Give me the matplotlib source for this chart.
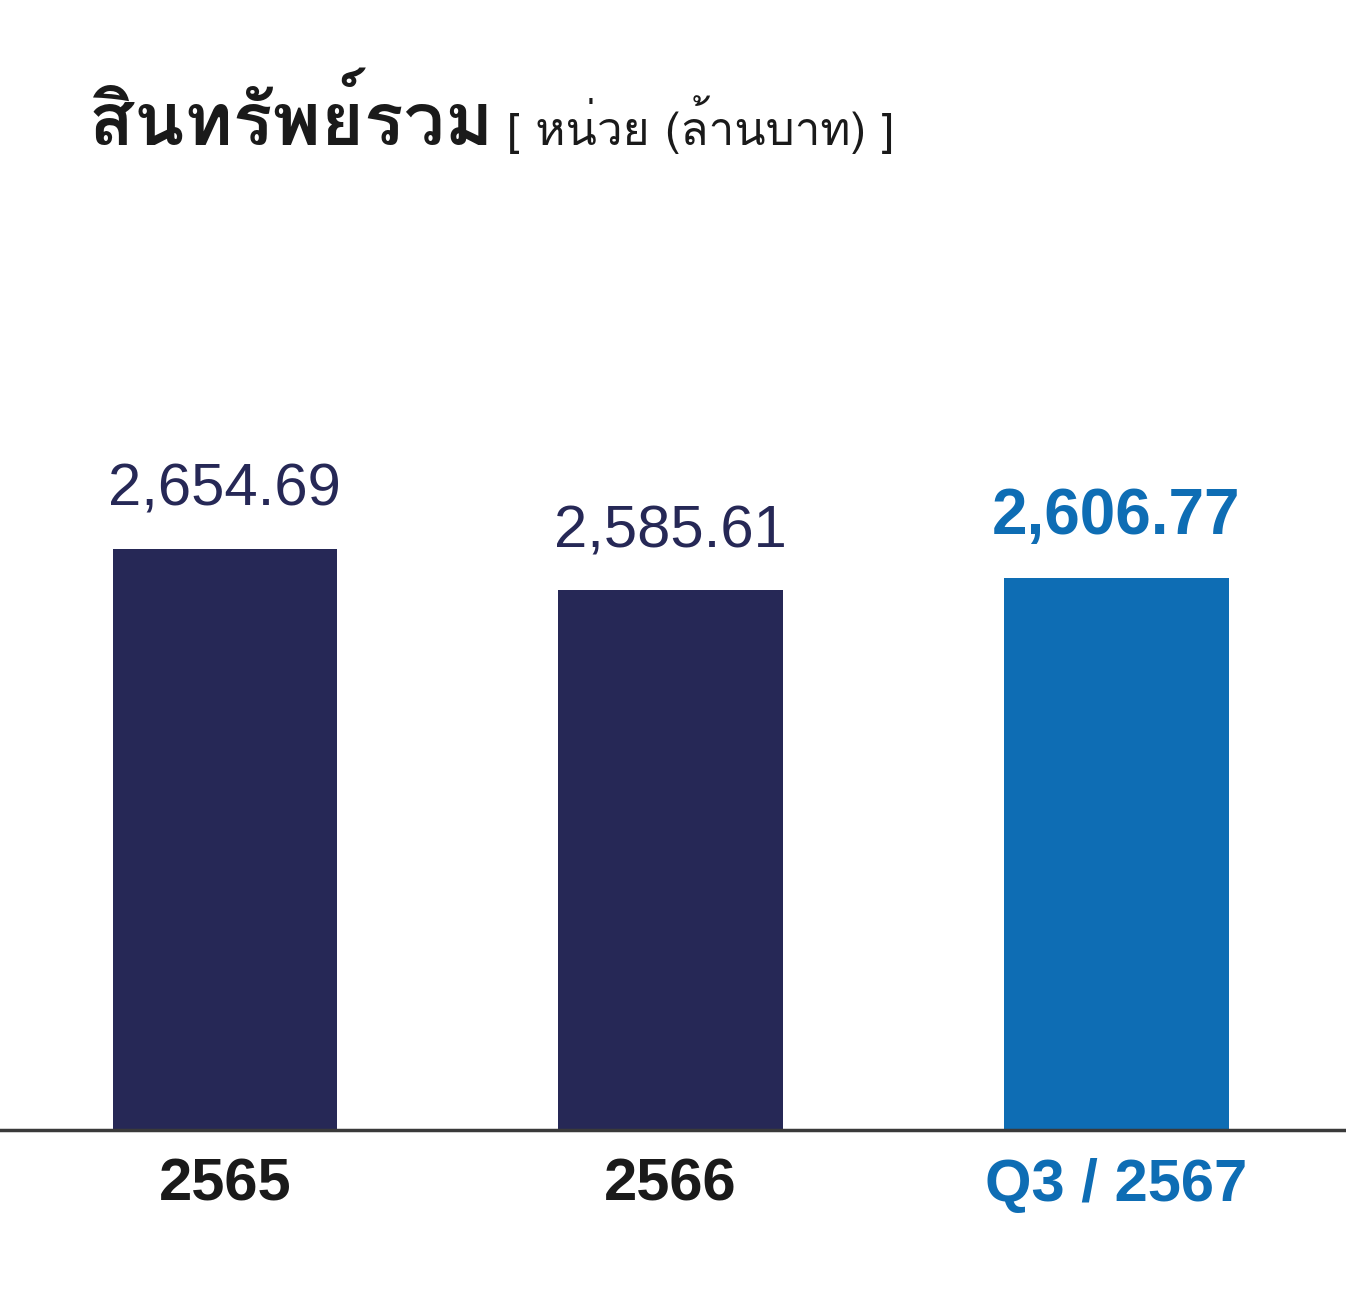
import matplotlib
matplotlib.use("Agg")
import matplotlib.pyplot as plt
from matplotlib import font_manager
from matplotlib.ft2font import FT2Font

categories = ["2565", "2566", "Q3 / 2567"]
values = [2654.69, 2585.61, 2606.77]
value_labels = ["2,654.69", "2,585.61", "2,606.77"]

NAVY = "#262856"
BLUE = "#0e6db4"
colors = [NAVY, NAVY, BLUE]
text_colors = ["#1a1a1a", "#1a1a1a", BLUE]
highlight = [False, False, True]


def thai_fonts():
    names = []
    for f in font_manager.fontManager.ttflist:
        try:
            if 0x0E2A in FT2Font(f.fname).get_charmap():
                if f.name not in names:
                    names.append(f.name)
        except Exception:
            pass
    return names


names = {f.name for f in font_manager.fontManager.ttflist}
narrow = "Liberation Sans Narrow" if "Liberation Sans Narrow" in names else "Liberation Sans"
thai = thai_fonts()
title_family = thai + ["DejaVu Sans"]

fig = plt.figure(figsize=(13.46, 13.13), dpi=100)
ax = fig.add_axes([0, 1 - 1130 / 1313, 1, (1130 - 200) / 1313])

x = list(range(len(values)))
ax.bar(x, values, width=0.503, color=colors, zorder=2)
ax.set_xlim(-0.504, 2.515)
ax.set_ylim(1686, 3236)

for xi, v, lab, hl in zip(x, values, value_labels, highlight):
    ax.annotate(lab, (xi, v), xytext=(0, 31), textcoords="offset points",
                ha="center", va="baseline", family=narrow,
                fontsize=46 if hl else 43,
                fontweight="bold" if hl else "normal",
                color=BLUE if hl else NAVY)

ax.set_xticks(x)
ax.set_xticklabels(categories, family=narrow, fontweight="bold", fontsize=43)
for t, c in zip(ax.get_xticklabels(), text_colors):
    t.set_color(c)
ax.tick_params(axis="x", length=0, pad=20)
ax.set_yticks([])
for s in ["top", "left", "right"]:
    ax.spines[s].set_visible(False)
ax.spines["bottom"].set_color("#3a3a3a")
ax.spines["bottom"].set_linewidth(2.5)

fig.text(90 / 1346, 1 - 145 / 1313, "สินทรัพย์รวม", family=title_family,
         fontweight="bold", fontsize=53, color="#1a1a1a", va="baseline")
fig.text(507 / 1346, 1 - 145 / 1313, "[ หน่วย (ล้านบาท) ]", family=title_family,
         fontsize=33, color="#1a1a1a", va="baseline")

fig.savefig("out.png", dpi=100)
